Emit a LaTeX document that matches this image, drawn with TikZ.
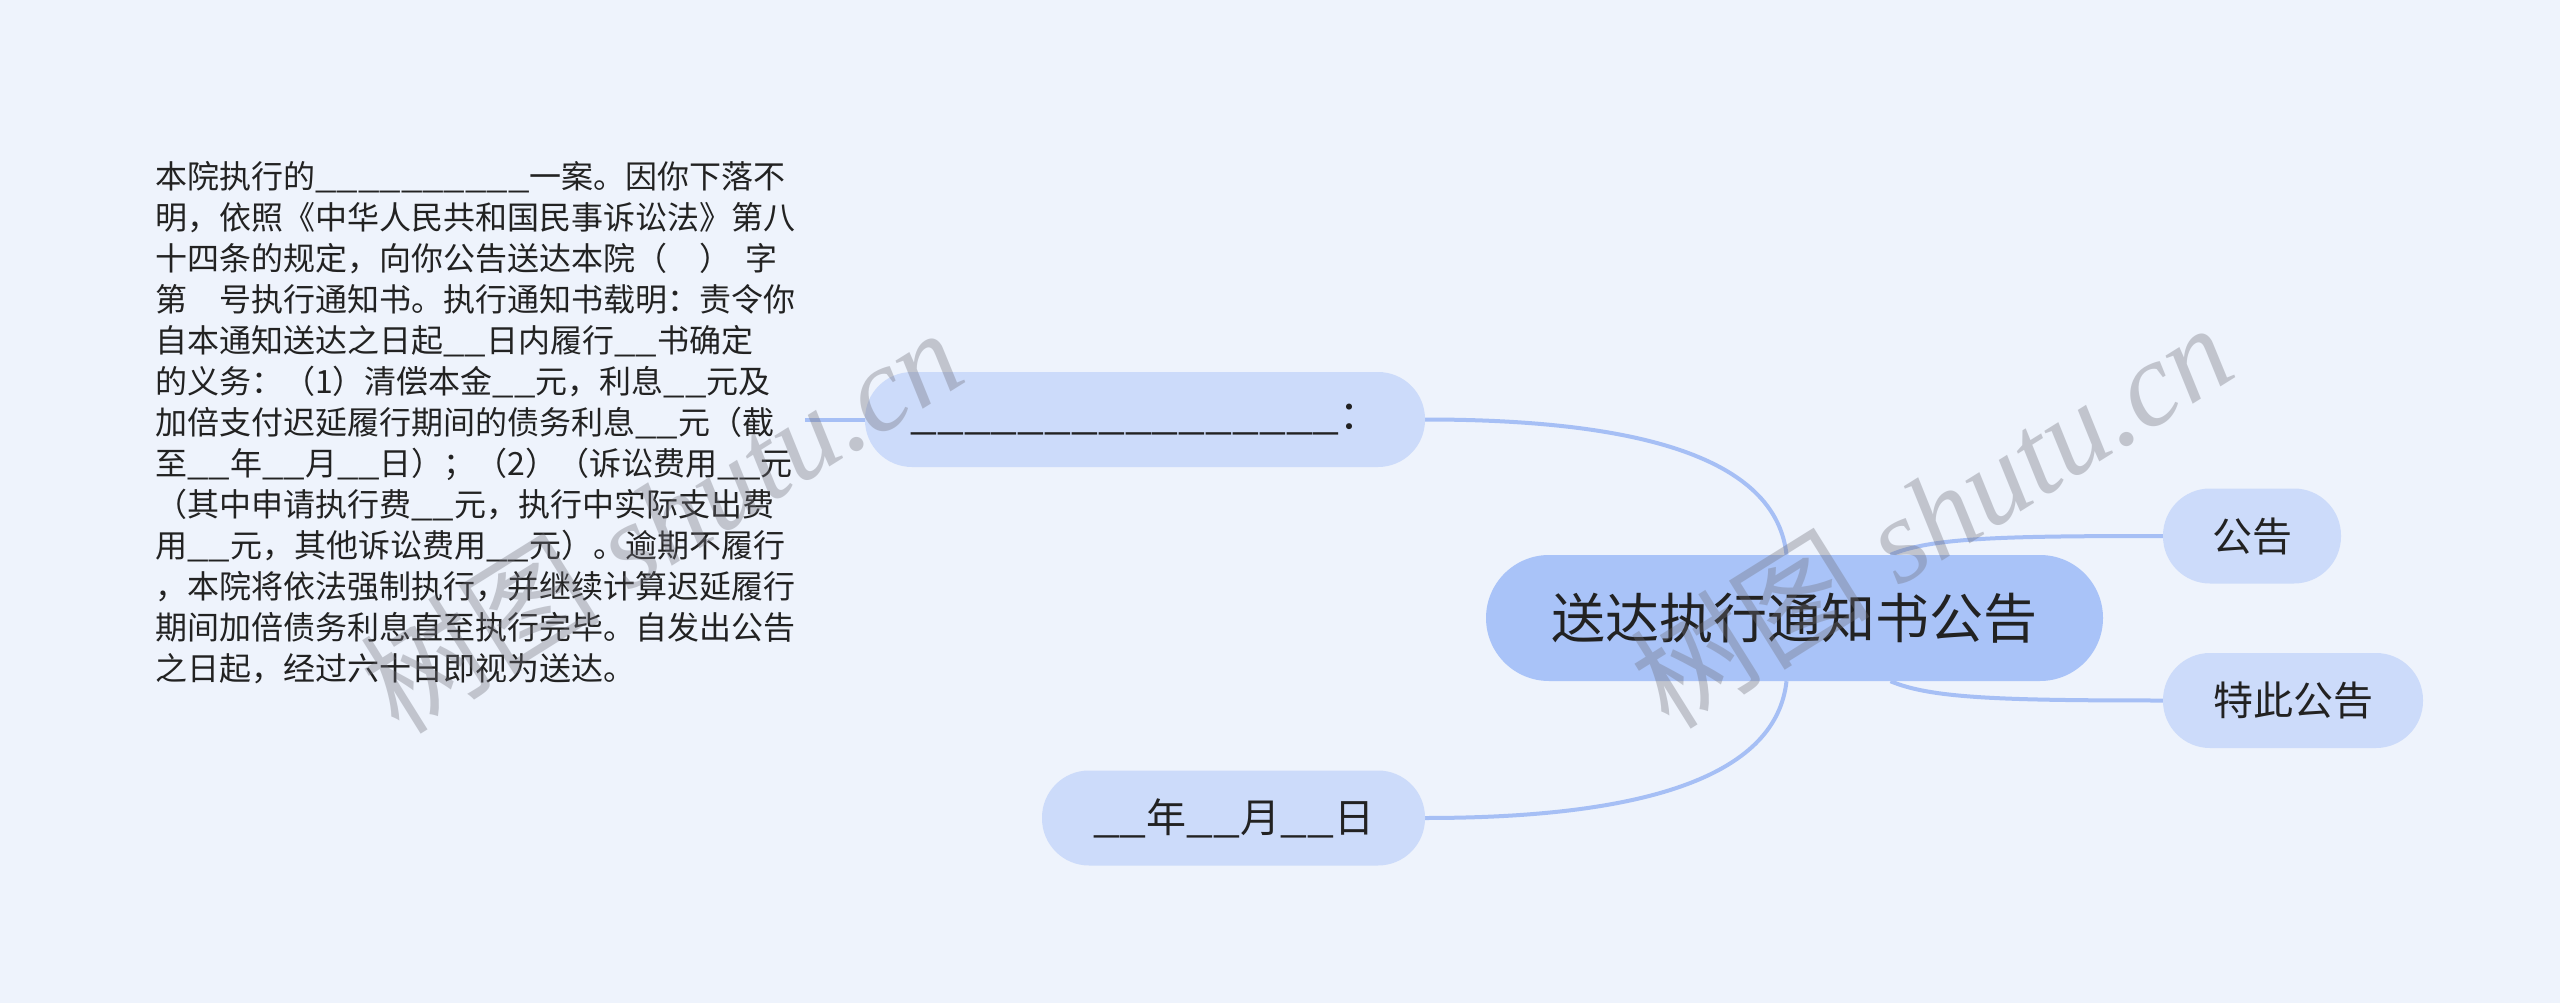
\documentclass[tikz,border=0pt]{standalone}
\usepackage{fontspec}
\setmainfont{Noto Sans CJK SC}
\newfontfamily\usf[FakeStretch=1.2]{Noto Sans CJK SC}
\newfontfamily\wmlatin{Liberation Serif}
\usetikzlibrary{calc,backgrounds}
\definecolor{bgc}{RGB}{238,243,252}
\definecolor{rootfill}{RGB}{169,195,248}
\definecolor{leaffill}{RGB}{204,219,250}
\definecolor{linkc}{RGB}{166,191,245}
\definecolor{txt}{RGB}{34,34,34}
\definecolor{wmc}{RGB}{110,110,120}
\newcommand{\bk}{{\usf\_\_}}
\begin{document}
\begin{tikzpicture}[x=1pt,y=-1pt,
  rootnode/.style={rectangle, rounded corners=63pt, fill=rootfill, minimum width=617pt, minimum height=126pt, inner sep=0pt, text=txt, font=\fontsize{54}{60}\selectfont},
  leafnode/.style={rectangle, rounded corners=47pt, fill=leaffill, minimum height=95pt, inner sep=0pt, text=txt, font=\fontsize{40}{48}\selectfont},
  bodytext/.style={anchor=north west, align=left, inner sep=0pt, text=txt, font=\fontsize{32}{41}\selectfont},
  link/.style={draw=linkc, line width=4pt},
  wm/.style={text=wmc, opacity=0.35, inner sep=0pt, font=\fontsize{120}{130}\selectfont}
]
\begin{scope}[on background layer]
\fill[bgc] (0,0) rectangle (2560,1003);
\end{scope}
\useasboundingbox (0,0) rectangle (2560,1003);

\node[rootnode] (root) at (1794.5,618) {送达执行通知书公告};
\node[leafnode, minimum width=560pt] (tl) at (1145,419.5) {{\usf\_\_\_\_\_\_\_\_\_\_\_\_\_\_\_\_}：};
\node[leafnode, minimum width=383pt] (bl) at (1233.5,818) {\bk 年\bk 月\bk 日};
\node[leafnode, minimum width=178pt] (gg) at (2252,536) {公告};
\node[leafnode, minimum width=260pt] (tc) at (2293,700.5) {特此公告};

\node[bodytext] (body) at (155,161) {本院执行的{\usf\_\_\_\_\_\_\_\_\_\_}一案。因你下落不\\
明，依照《中华人民共和国民事诉讼法》第八\\
十四条的规定，向你公告送达本院（　）~~字\\
第　号执行通知书。执行通知书载明：责令你\\
自本通知送达之日起\bk 日内履行\bk 书确定\\
的义务：（1）清偿本金\bk 元，利息\bk 元及\\
加倍支付迟延履行期间的债务利息\bk 元（截\\
至\bk 年\bk 月\bk 日）；（2）（诉讼费用\bk 元\\
（其中申请执行费\bk 元，执行中实际支出费\\
用\bk 元，其他诉讼费用\bk 元）。逾期不履行\\
，本院将依法强制执行，并继续计算迟延履行\\
期间加倍债务利息直至执行完毕。自发出公告\\
之日起，经过六十日即视为送达。};

\begin{scope}[on background layer]
\draw[link] ($(root.north)+(-8,0)$) .. controls ($(root.north)+(-18,-91)$) and ($(tl.east)+(230,0)$) .. (tl.east);
\draw[link] ($(root.south)+(-8,0)$) .. controls ($(root.south)+(-18,91)$) and ($(bl.east)+(230,0)$) .. (bl.east);
\draw[link] ($(root.north)+(96,0)$) .. controls ($(root.north)+(136,-17)$) and ($(gg.west)+(-163,0)$) .. (gg.west);
\draw[link] ($(root.south)+(96,0)$) .. controls ($(root.south)+(136,17)$) and ($(tc.west)+(-163,0)$) .. (tc.west);
\draw[link] ($(body.east |- tl.west)+(10,0)$) -- (tl.west);
\end{scope}

\node[wm, rotate=32] (wm1) at (661,519) {树图{\wmlatin\itshape\ shutu.cn}};
\node[wm, rotate=32] (wm2) at (1931,514) {树图{\wmlatin\itshape\ shutu.cn}};
\end{tikzpicture}
\end{document}
